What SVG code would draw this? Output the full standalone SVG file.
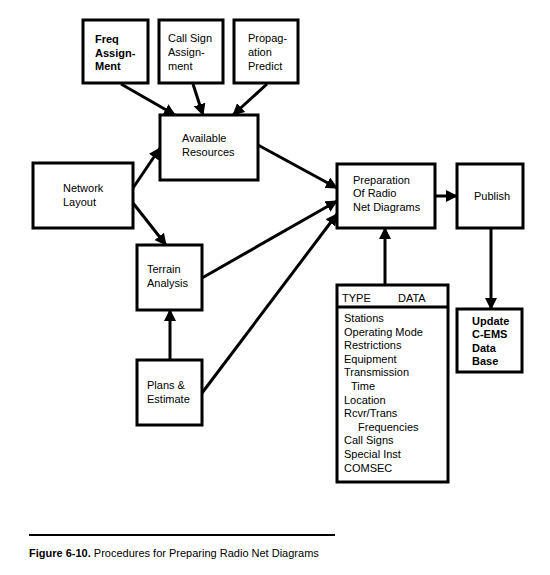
<svg xmlns="http://www.w3.org/2000/svg" width="550" height="575" viewBox="0 0 550 575">
<style>
.box{fill:#fff;stroke:#000;stroke-width:3}
.t{font-family:"Liberation Sans",Arial,sans-serif;font-size:11px;fill:#000}
.b{font-weight:bold}
.c{stroke:#000;stroke-width:3;fill:none;marker-end:url(#ah)}
</style>
<defs>
<marker id="ah" markerUnits="userSpaceOnUse" markerWidth="12" markerHeight="12" refX="11" refY="6" orient="auto">
<path d="M0,0 L12,6 L0,12 z" fill="#000"/>
</marker>
</defs>
<rect width="550" height="575" fill="#fff"/>
<g id="connectors">
<line class="c" x1="121" y1="84" x2="175" y2="115"/>
<line class="c" x1="193" y1="84" x2="203" y2="115"/>
<line class="c" x1="267" y1="84" x2="233" y2="115"/>
<line class="c" x1="133" y1="188" x2="160" y2="148"/>
<line class="c" x1="133" y1="203" x2="166" y2="245"/>
<line class="c" x1="258" y1="145" x2="337" y2="188"/>
<line class="c" x1="202" y1="278" x2="337" y2="201"/>
<line class="c" x1="202" y1="393" x2="337" y2="214"/>
<line class="c" x1="385" y1="285" x2="385" y2="228"/>
<line class="c" x1="435" y1="196" x2="457" y2="196"/>
<line class="c" x1="491" y1="228" x2="491" y2="309"/>
<line class="c" x1="170" y1="360" x2="170" y2="310"/>
</g>
<g id="freq">
<rect class="box" x="83" y="20" width="65" height="63"/>
<text class="t b" x="95" y="43">Freq</text>
<text class="t b" x="95" y="57">Assign-</text>
<text class="t b" x="95" y="70">Ment</text>
</g>
<g id="callsign">
<rect class="box" x="159" y="20" width="64" height="63"/>
<text class="t" x="168" y="42">Call Sign</text>
<text class="t" x="168" y="56">Assign-</text>
<text class="t" x="168" y="70">ment</text>
</g>
<g id="propagation">
<rect class="box" x="234" y="20" width="64" height="63"/>
<text class="t" x="248" y="42">Propag-</text>
<text class="t" x="248" y="56">ation</text>
<text class="t" x="248" y="70">Predict</text>
</g>
<g id="available">
<rect class="box" x="160" y="115" width="98" height="65"/>
<text class="t" x="182" y="142">Available</text>
<text class="t" x="182" y="156">Resources</text>
</g>
<g id="network">
<rect class="box" x="33" y="163" width="100" height="65"/>
<text class="t" x="63" y="192">Network</text>
<text class="t" x="63" y="206">Layout</text>
</g>
<g id="terrain">
<rect class="box" x="137" y="245" width="65" height="65"/>
<text class="t" x="147" y="273">Terrain</text>
<text class="t" x="147" y="287">Analysis</text>
</g>
<g id="plans">
<rect class="box" x="137" y="360" width="65" height="65"/>
<text class="t" x="147" y="389">Plans &amp;</text>
<text class="t" x="147" y="403">Estimate</text>
</g>
<g id="preparation">
<rect class="box" x="337" y="164" width="98" height="64"/>
<text class="t" x="353" y="184">Preparation</text>
<text class="t" x="353" y="197">Of Radio</text>
<text class="t" x="353" y="211">Net Diagrams</text>
</g>
<g id="publish">
<rect class="box" x="457" y="164" width="66" height="64"/>
<text class="t" x="474" y="200">Publish</text>
</g>
<g id="update">
<rect class="box" x="457" y="309" width="65" height="63"/>
<text class="t b" x="472" y="325">Update</text>
<text class="t b" x="472" y="338">C-EMS</text>
<text class="t b" x="472" y="352">Data</text>
<text class="t b" x="472" y="365">Base</text>
</g>
<g id="typedata">
<rect class="box" x="337" y="285" width="111" height="197"/>
<line x1="337" y1="307" x2="448" y2="307" stroke="#000" stroke-width="3"/>
<text class="t" x="342" y="302">TYPE</text>
<text class="t" x="398" y="302">DATA</text>
<text class="t" x="344" y="322">Stations</text>
<text class="t" x="344" y="335.6">Operating Mode</text>
<text class="t" x="344" y="349.2">Restrictions</text>
<text class="t" x="344" y="362.8">Equipment</text>
<text class="t" x="344" y="376.4">Transmission</text>
<text class="t" x="351" y="390">Time</text>
<text class="t" x="344" y="403.6">Location</text>
<text class="t" x="344" y="417.2">Rcvr/Trans</text>
<text class="t" x="358" y="430.8">Frequencies</text>
<text class="t" x="344" y="444.4">Call Signs</text>
<text class="t" x="344" y="458">Special Inst</text>
<text class="t" x="344" y="471.6">COMSEC</text>
</g>
<g id="caption">
<line x1="29" y1="535" x2="335" y2="535" stroke="#000" stroke-width="2"/>
<text class="t" x="29" y="557" style="font-size:11px"><tspan class="b">Figure 6-10.</tspan> Procedures for Preparing Radio Net Diagrams</text>
</g>
</svg>
